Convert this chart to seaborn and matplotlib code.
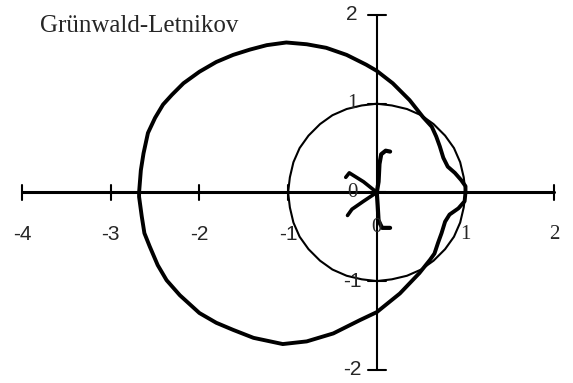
import matplotlib
matplotlib.use("Agg")
import matplotlib.pyplot as plt
import seaborn as sns
import pandas as pd

# Stability boundary, upper half traced from the cusp at 1 round to the far left
outer_upper_x = [1.00, 1.00, 0.95, 0.88, 0.80, 0.75, 0.71, 0.67, 0.62, 0.52, 0.37, 0.18,
                 0.00, -0.12, -0.34, -0.57, -0.79, -1.02, -1.24, -1.43, -1.62, -1.81,
                 -2.00, -2.18, -2.31, -2.41, -2.50, -2.58, -2.63, -2.66, -2.68]
outer_upper_y = [0.00, 0.07, 0.14, 0.22, 0.29, 0.39, 0.52, 0.63, 0.74, 0.85, 1.04, 1.23,
                 1.37, 1.44, 1.55, 1.63, 1.67, 1.69, 1.66, 1.61, 1.55, 1.47,
                 1.36, 1.23, 1.10, 0.99, 0.84, 0.67, 0.44, 0.25, 0.00]
# Lower half traced from the far left back to the cusp
outer_lower_x = [-2.68, -2.68, -2.65, -2.62, -2.56, -2.47, -2.37, -2.22, -2.00, -1.81,
                 -1.62, -1.39, -1.06, -0.79, -0.49, -0.19, 0.00, 0.26, 0.48, 0.60, 0.65,
                 0.69, 0.73, 0.77, 0.82, 0.92, 0.99, 1.00]
outer_lower_y = [0.00, -0.05, -0.27, -0.46, -0.61, -0.82, -0.99, -1.16, -1.36, -1.47,
                 -1.55, -1.64, -1.71, -1.68, -1.59, -1.44, -1.35, -1.14, -0.91, -0.76, -0.69,
                 -0.57, -0.46, -0.33, -0.25, -0.18, -0.10, 0.00]

# Unit circle reference, traced every 10 degrees
circle_x = [1.00, 0.98, 0.94, 0.87, 0.77, 0.64, 0.50, 0.34, 0.17, 0.00, -0.17, -0.34,
            -0.50, -0.64, -0.77, -0.87, -0.94, -0.98, -1.00, -0.98, -0.94, -0.87, -0.77,
            -0.64, -0.50, -0.34, -0.17, 0.00, 0.17, 0.34, 0.50, 0.64, 0.77, 0.87, 0.94,
            0.98, 1.00]
circle_y = [0.00, 0.17, 0.34, 0.50, 0.64, 0.77, 0.87, 0.94, 0.98, 1.00, 0.98, 0.94,
            0.87, 0.77, 0.64, 0.50, 0.34, 0.17, 0.00, -0.17, -0.34, -0.50, -0.64, -0.77,
            -0.87, -0.94, -0.98, -1.00, -0.98, -0.94, -0.87, -0.77, -0.64, -0.50, -0.34,
            -0.17, 0.00]

# Small strokes around the origin
inner_x = [0.15, 0.10, 0.05, 0.03, 0.02, 0.00, 0.01, 0.02, 0.06, 0.15]
inner_y = [0.46, 0.47, 0.43, 0.32, 0.12, 0.00, -0.15, -0.32, -0.40, -0.40]
wing_up_x = [-0.35, -0.31, -0.15, 0.00]
wing_up_y = [0.17, 0.22, 0.12, 0.00]
wing_dn_x = [0.00, -0.15, -0.28, -0.33]
wing_dn_y = [0.00, -0.10, -0.19, -0.26]

x_ticks = [-4, -3, -2, -1, 0, 1, 2]
x_tick_labels = ["-4", "-3", "-2", "-1", "0", "1", "2"]
y_ticks = [-2, -1, 0, 1, 2]
y_tick_labels = ["-2", "-1", "0", "1", "2"]
title = "Grünwald-Letnikov"

sns.set_style("white")
plt.rcParams["font.family"] = ["Liberation Serif", "DejaVu Serif"]

fig = plt.figure(figsize=(5.73, 3.83), dpi=100)
ax = fig.add_axes([0, 0, 1, 1])
ax.set_xlim(-4.248, 2.212)
ax.set_ylim(-2.149, 2.169)
ax.axis("off")


def curve(xs, ys, lw):
    df = pd.DataFrame({"x": xs, "y": ys})
    sns.lineplot(data=df, x="x", y="y", sort=False, estimator=None, color="black",
                 linewidth=lw, ax=ax, solid_capstyle="round", solid_joinstyle="round")


# Coordinate axes with crossing tick bars
curve([x_ticks[0], x_ticks[-1]], [0, 0], 2.2)
curve([0, 0], [y_ticks[0], y_ticks[-1]], 1.5)
for t in x_ticks:
    curve([t, t], [-0.085, 0.085], 1.5)
for t in y_ticks:
    curve([-0.1, 0.1], [t, t], 1.5)

curve(circle_x, circle_y, 1.5)
curve(outer_upper_x, outer_upper_y, 2.8)
curve(outer_lower_x, outer_lower_y, 2.8)
curve(inner_x, inner_y, 3.0)
curve(wing_up_x, wing_up_y, 2.6)
curve(wing_dn_x, wing_dn_y, 2.6)

for t, lab in zip(x_ticks, x_tick_labels):
    fam = ["Liberation Sans"] if t < 0 else ["Liberation Serif"]
    ypos = -0.40 if t == 0 else -0.48
    ax.text(t, ypos, lab, ha="center", va="center", fontsize=15, family=fam)
for t, lab in zip(y_ticks, y_tick_labels):
    fam = ["Liberation Sans"] if t < 0 or t == 2 else ["Liberation Serif"]
    ax.text(-0.28, t, lab, ha="center", va="center", fontsize=15, family=fam)

ax.text(-3.80, 1.81, title, ha="left", va="baseline", fontsize=18,
        family=["Liberation Serif"])

fig.savefig("out.png", dpi=100, facecolor="white")
